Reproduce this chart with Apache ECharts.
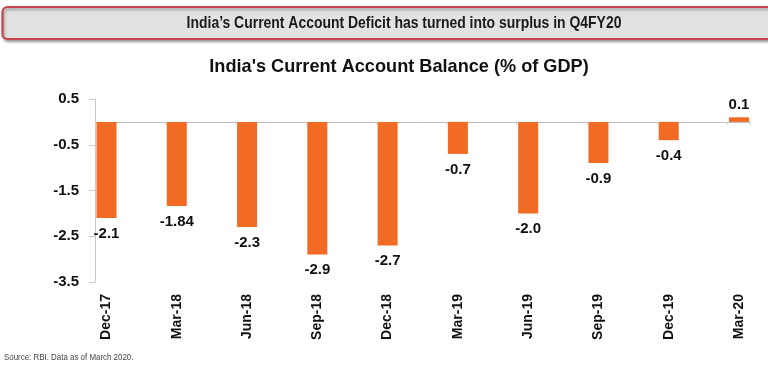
<!DOCTYPE html>
<html>
<head>
<meta charset="utf-8">
<script src="https://cdn.jsdelivr.net/npm/echarts@6/dist/echarts.min.js"></script>
<style>
html,body{margin:0;padding:0;background:#fff;}
#c{width:768px;height:365px;}
</style>
</head>
<body>
<div id="c"></div>
<script>
const categories = ['Dec-17','Mar-18','Jun-18','Sep-18','Dec-18','Mar-19','Jun-19','Sep-19','Dec-19','Mar-20'];
const values = [-2.1, -1.84, -2.3, -2.9, -2.7, -0.7, -2.0, -0.9, -0.4, 0.1];
const valueLabels = ['-2.1','-1.84','-2.3','-2.9','-2.7','-0.7','-2.0','-0.9','-0.4','0.1'];
const yTicks = [0.5, -0.5, -1.5, -2.5, -3.5];
const bannerText = 'India\u2019s Current Account Deficit has turned into surplus in Q4FY20';
const chartTitle = "India's Current Account Balance (% of GDP)";
const sourceText = 'Source: RBI. Data as of March 2020.';

const FONT = '"Liberation Sans", Arial, sans-serif';
const chart = echarts.init(document.getElementById('c'), null, {renderer: 'canvas'});

const option = {
  animation: false,
  backgroundColor: '#ffffff',
  graphic: [
    {
      type: 'rect',
      shape: {x: 2.5, y: 7, width: 780, height: 32, r: 5},
      style: {fill: '#e2e2e2', stroke: '#c6454f', lineWidth: 2.2,
        shadowBlur: 3, shadowOffsetX: 1, shadowOffsetY: 2, shadowColor: 'rgba(0,0,0,0.35)'},
      z: 10
    },
    {
      type: 'text',
      x: 404, y: 23.5, scaleX: 0.82,
      style: {text: bannerText, x: 0, y: 0, align: 'center', verticalAlign: 'middle',
        font: 'bold 17px ' + FONT, fill: '#1a1a1a'},
      z: 11
    },
    {
      type: 'text',
      x: 399, y: 67, scaleX: 0.955,
      style: {text: chartTitle, x: 0, y: 0, align: 'center', verticalAlign: 'middle',
        font: 'bold 19px ' + FONT, fill: '#111'},
      z: 11
    },
    {
      type: 'text',
      x: 4, y: 358, scaleX: 0.88,
      style: {text: sourceText, x: 0, y: 0, align: 'left', verticalAlign: 'middle',
        font: '9px ' + FONT, fill: '#444'},
      z: 11
    }
  ],
  grid: [
    {left: 95, right: 18, top: 99, bottom: 83},
    {left: 106.5, right: 29, top: 99, bottom: 83}
  ],
  xAxis: [
    {
      type: 'value', gridIndex: 0, min: 0, max: 9.32, interval: 1,
      axisLine: {show: true, onZero: true, lineStyle: {color: '#bdbdbd', width: 1}},
      axisTick: {show: true, length: 3, lineStyle: {color: '#d5d5d5'}},
      axisLabel: {show: false}, splitLine: {show: false}
    },
    {
      type: 'category', gridIndex: 1, data: categories, boundaryGap: false,
      axisLine: {show: false, onZero: false},
      axisTick: {show: false},
      axisLabel: {rotate: 90, margin: 12, fontFamily: FONT, fontWeight: 'bold', fontSize: 14, color: '#111'},
      splitLine: {show: false}
    }
  ],
  yAxis: [
    {
      type: 'value', gridIndex: 0, min: -3.5, max: 0.5, interval: 1,
      axisLine: {show: true, lineStyle: {color: '#c8c8c8'}},
      axisTick: {show: true, length: 6, lineStyle: {color: '#c8c8c8'}},
      axisLabel: {margin: 16, fontFamily: FONT, fontWeight: 'bold', fontSize: 15, color: '#111',
        formatter: v => String(v)},
      splitLine: {show: false}
    },
    {
      type: 'value', gridIndex: 1, min: -3.5, max: 0.5, interval: 1,
      show: false, splitLine: {show: false}
    }
  ],
  series: [{
    type: 'bar',
    xAxisIndex: 1, yAxisIndex: 1,
    barWidth: 20,
    clip: false,
    itemStyle: {color: '#f26b24'},
    data: values.map((v, i) => ({
      value: v,
      label: {
        show: true,
        position: v < 0 ? 'bottom' : 'top',
        distance: v < 0 ? 8 : 5,
        formatter: valueLabels[i],
        fontFamily: FONT, fontWeight: 'bold', fontSize: 15, color: '#111'
      }
    }))
  }]
};
chart.setOption(option);
</script>
</body>
</html>
